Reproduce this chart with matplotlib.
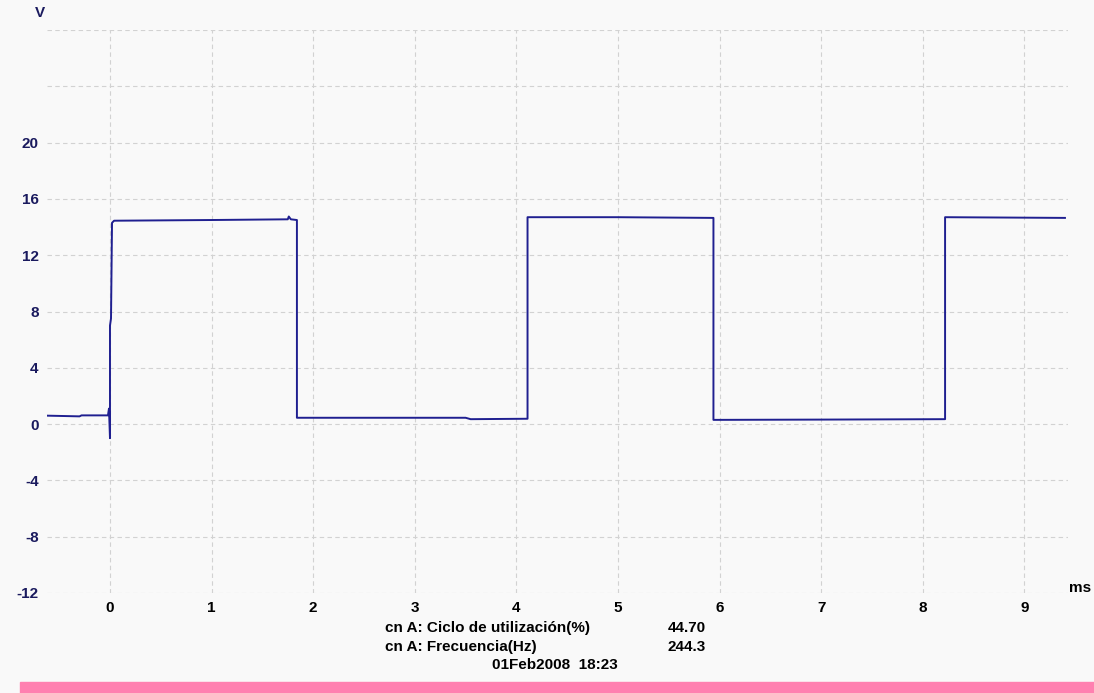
import matplotlib.pyplot as plt
from matplotlib.patches import Rectangle

# scope trace (ms, V)
t_ms = [-0.62, -0.30, -0.28, -0.02, -0.01, 0.00, 0.00, 0.01, 0.02,
        0.04, 1.00, 1.75, 1.76, 1.78, 1.84, 1.84, 2.50, 3.50, 3.55, 4.11, 4.11,
        5.00, 5.94, 5.94, 7.00, 8.22, 8.22, 9.40]
volts = [0.60, 0.55, 0.62, 0.62, 1.1, -1.0, 7.0, 7.5, 14.3,
         14.45, 14.5, 14.55, 14.75, 14.55, 14.5, 0.45, 0.45, 0.45, 0.35, 0.38, 14.7,
         14.7, 14.65, 0.30, 0.32, 0.35, 14.7, 14.65]

y_ticks = [-12, -8, -4, 0, 4, 8, 12, 16, 20, 24, 28]
y_labels = ['-12', '-8', '-4', '0', '4', '8', '12', '16', '20', '', '']
x_ticks = list(range(10))

meas_names = ['cn A: Ciclo de utilización(%)', 'cn A: Frecuencia(Hz)']
meas_values = ['44.70', '244.3']
stamp = '01Feb2008  18:23'

W, H = 1094, 693
bg = '#f9f9f9'
font = ['Liberation Sans Narrow', 'Liberation Sans', 'DejaVu Sans']

fig = plt.figure(figsize=(W / 100, H / 100), dpi=100, facecolor=bg)
ax = fig.add_axes([47 / W, (H - 593) / H, (1068 - 47) / W, (593 - 30) / H])
ax.set_facecolor(bg)
for s in ax.spines.values():
    s.set_visible(False)

ax.plot(t_ms, volts, color='#1f1f90', lw=1.4, zorder=3)

ax.set_xlim(-0.62, 9.43)
ax.set_ylim(-12, 28)
ax.set_yticks(y_ticks)
ax.set_yticklabels(y_labels, fontfamily=font, fontweight='bold',
                   fontsize=11, color='#1a1a5e')
ax.set_xticks(x_ticks)
ax.set_xticklabels([str(x) for x in x_ticks], fontfamily=font,
                   fontweight='bold', fontsize=11, color='black')
ax.tick_params(length=0, pad=6)
ax.grid(True, color='#d2d2d2', linestyle=(0, (4, 3)), lw=0.8)

fig.text(40 / W, 1 - 13 / H, 'V', fontfamily=font, fontweight='bold',
         fontsize=11, color='#1a1a5e', ha='center', va='center')
fig.text(1080 / W, 1 - 588 / H, 'ms', fontfamily=font, fontweight='bold',
         fontsize=11, color='black', ha='center', va='center')

for i, (name, val) in enumerate(zip(meas_names, meas_values)):
    yy = 1 - (628 + 19 * i) / H
    fig.text(385 / W, yy, name, fontfamily=font, fontweight='bold',
             fontsize=11, ha='left', va='center')
    fig.text(668 / W, yy, val, fontfamily=font, fontweight='bold',
             fontsize=11, ha='left', va='center')
fig.text(492 / W, 1 - 665 / H, stamp, fontfamily=font, fontweight='bold',
         fontsize=11, ha='left', va='center')

# pink status strip along the bottom
fig.patches.append(Rectangle((20 / W, 0), 1 - 20 / W, 11 / H,
                             transform=fig.transFigure, color='#ff80b0'))

fig.savefig('out.png', dpi=100, facecolor=bg)
